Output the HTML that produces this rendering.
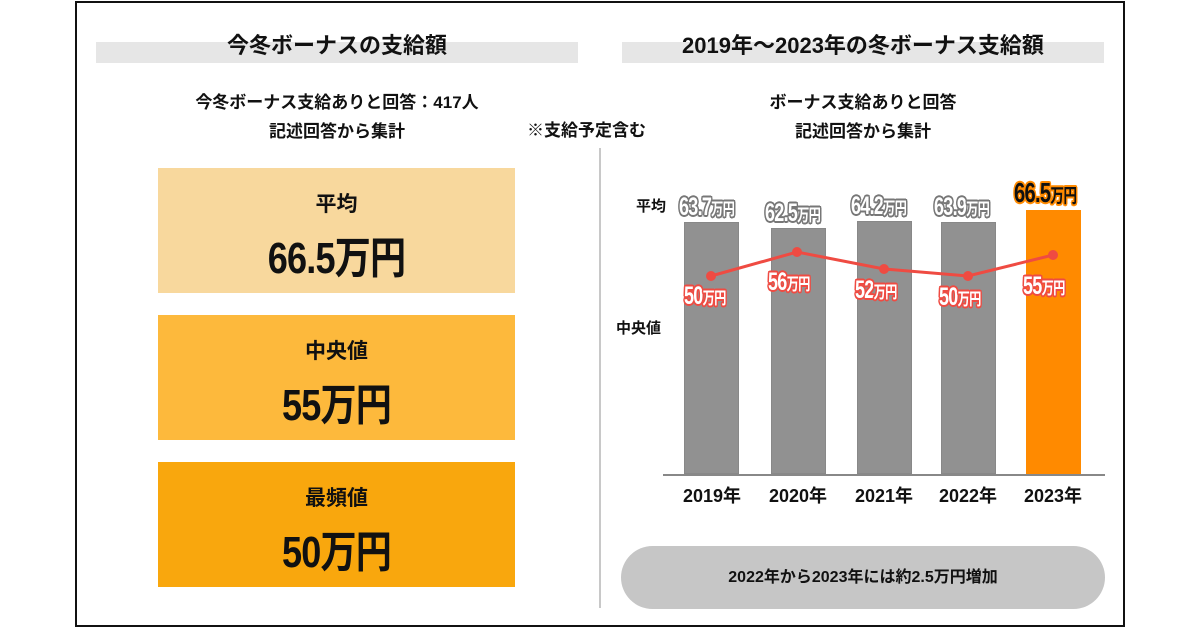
<!DOCTYPE html>
<html><head><meta charset="utf-8"><style>
body{margin:0;width:1200px;height:630px;background:#fff;position:relative;overflow:hidden;font-family:"Liberation Sans","Noto Sans CJK JP",sans-serif;color:#111}
.a{position:absolute}
.frame{left:75px;top:1px;width:1050px;height:626px;border:2px solid #111;box-sizing:border-box}
.bar{background:#e6e6e6;height:21px}
.t{font-weight:bold;text-align:center;white-space:nowrap}
.box{left:158px;width:357px;height:125px;text-align:center;font-weight:bold}
.box .l{font-size:21px;margin-top:20px}
.box .v{font-size:44px;margin-top:4px;letter-spacing:-1px;transform:scaleX(.82)}
.gb{background:#919191;width:55px;border:1px solid #888;box-sizing:border-box}
.lab{font-weight:bold;font-size:25px;white-space:nowrap;transform:scaleX(.72);transform-origin:left;letter-spacing:-1px}
.g{color:#fff;text-shadow:2px 0 #777,-2px 0 #777,0 2px #777,0 -2px #777,1.5px 1.5px #777,-1.5px -1.5px #777,1.5px -1.5px #777,-1.5px 1.5px #777}
.r{color:#fff;text-shadow:2px 0 #ef4b42,-2px 0 #ef4b42,0 2px #ef4b42,0 -2px #ef4b42,1.5px 1.5px #ef4b42,-1.5px -1.5px #ef4b42,1.5px -1.5px #ef4b42,-1.5px 1.5px #ef4b42}
.o{color:#111;text-shadow:2px 0 #ff8a00,-2px 0 #ff8a00,0 2px #ff8a00,0 -2px #ff8a00,1.5px 1.5px #ff8a00,-1.5px -1.5px #ff8a00,1.5px -1.5px #ff8a00,-1.5px 1.5px #ff8a00}
.lab span{font-size:17px}
</style></head><body>
<div class="a frame"></div>
<div class="a bar" style="left:96px;top:42px;width:482px"></div>
<div class="a bar" style="left:622px;top:42px;width:482px"></div>
<div class="a t" style="left:96px;width:482px;top:28px;font-size:22px">今冬ボーナスの支給額</div>
<div class="a t" style="left:622px;width:482px;top:28px;font-size:22px">2019年～2023年の冬ボーナス支給額</div>
<div class="a t" style="left:96px;width:482px;top:88px;font-size:17px;line-height:29px">今冬ボーナス支給ありと回答：417人<br>記述回答から集計</div>
<div class="a t" style="left:622px;width:482px;top:88px;font-size:17px;line-height:29px">ボーナス支給ありと回答<br>記述回答から集計</div>
<div class="a t" style="left:527px;top:116px;font-size:17px">※支給予定含む</div>
<div class="a" style="left:599px;top:148px;width:2px;height:460px;background:#c8c8c8"></div>
<div class="a box" style="top:168px;background:#f8d89d"><div class="l">平均</div><div class="v">66.5万円</div></div>
<div class="a box" style="top:315px;background:#fdb93c"><div class="l">中央値</div><div class="v">55万円</div></div>
<div class="a box" style="top:462px;background:#f9a70d"><div class="l">最頻値</div><div class="v">50万円</div></div>
<div class="a t" style="left:636px;top:195px;font-size:15px">平均</div>
<div class="a t" style="left:616px;top:317px;font-size:15px">中央値</div>
<div class="a gb" style="left:684px;top:222px;height:252px"></div>
<div class="a gb" style="left:771px;top:228px;height:246px"></div>
<div class="a gb" style="left:857px;top:221px;height:253px"></div>
<div class="a gb" style="left:941px;top:222px;height:252px"></div>
<div class="a" style="left:1026px;top:210px;width:55px;height:264px;background:#ff8a00"></div>
<div class="a" style="left:663px;top:474px;width:442px;height:2px;background:#888"></div>
<svg class="a" style="left:0;top:0" width="1200" height="630">
<polyline points="711,276 797,252 884,269 968,276 1053,255" fill="none" stroke="#ef4b42" stroke-width="3"/>
<g fill="#ef4b42"><circle cx="711" cy="276" r="5"/><circle cx="797" cy="252" r="5"/><circle cx="884" cy="269" r="5"/><circle cx="968" cy="276" r="5"/><circle cx="1053" cy="255" r="5"/></g>
</svg>
<div class="a lab g" style="left:679px;top:193px">63.7<span>万円</span></div>
<div class="a lab g" style="left:765px;top:199px">62.5<span>万円</span></div>
<div class="a lab g" style="left:851px;top:192px">64.2<span>万円</span></div>
<div class="a lab g" style="left:934px;top:193px">63.9<span>万円</span></div>
<div class="a lab o" style="left:1014px;top:177px;font-size:28px">66.5<span style="font-size:19px">万円</span></div>
<div class="a lab r" style="left:684px;top:282px">50<span>万円</span></div>
<div class="a lab r" style="left:768px;top:268px">56<span>万円</span></div>
<div class="a lab r" style="left:855px;top:276px">52<span>万円</span></div>
<div class="a lab r" style="left:939px;top:283px">50<span>万円</span></div>
<div class="a lab r" style="left:1023px;top:272px">55<span>万円</span></div>
<div class="a t" style="left:662px;width:100px;top:482px;font-size:18px">2019年</div>
<div class="a t" style="left:748px;width:100px;top:482px;font-size:18px">2020年</div>
<div class="a t" style="left:834px;width:100px;top:482px;font-size:18px">2021年</div>
<div class="a t" style="left:918px;width:100px;top:482px;font-size:18px">2022年</div>
<div class="a t" style="left:1003px;width:100px;top:482px;font-size:18px">2023年</div>
<div class="a t" style="left:621px;top:546px;width:484px;height:63px;border-radius:32px;background:#c6c6c6;font-size:16px;line-height:63px">2022年から2023年には約2.5万円増加</div>
</body></html>
